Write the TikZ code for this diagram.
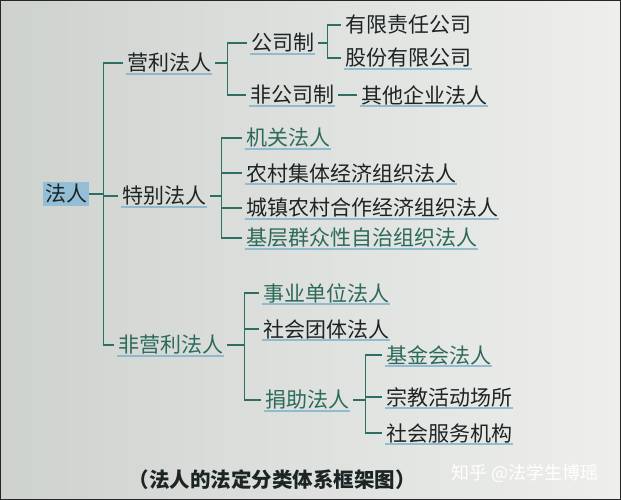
\documentclass[tikz,border=0pt]{standalone}
\usepackage{fontspec}
\newfontfamily\cjk{Noto Sans CJK SC}
\usetikzlibrary{positioning}

\definecolor{paperL}{HTML}{CED2CE}
\definecolor{paperR}{HTML}{EEEFED}
\definecolor{linecol}{HTML}{2E6F63}
\definecolor{inkcol}{HTML}{1C2424}
\definecolor{greencol}{HTML}{2C6A5C}
\definecolor{markcol}{HTML}{78AECB}

\begin{document}
\begin{tikzpicture}[x=1pt, y=-1pt]
        \tikzstyle{item} = [anchor=west, inner xsep=4pt, inner ysep=2pt, text=inkcol, font=\cjk\fontsize{21}{23}\selectfont]
        \tikzstyle{green} = [item, text=greencol]
        \tikzstyle{conn} = [draw=linecol, line width=1.3pt]
        \tikzstyle{uline} = [draw=markcol, line width=2.6pt, opacity=0.75]
        % paper
        \shade[left color=paperL, right color=paperR] (0,0) rectangle (621,500);
        \useasboundingbox (0,0) rectangle (621,500);
        % root
        \node[item, anchor=center, fill=markcol!80, inner xsep=2pt] (fr) at (66,194) {法人};
        % level 1
        \node[item] (yl) at (123,63) {营利法人};
        \node[item] (tb) at (118,196) {特别法人};
        \node[green] (fyl) at (114,345) {非营利法人};
        % 营利法人
        \node[item] (gs) at (247,43) {公司制};
        \node[item] (fgs) at (246,95) {非公司制};
        \node[item, right=6.5mm of fgs] (qt) {其他企业法人};
        \node[item] (yx) at (341,25) {有限责任公司};
        \node[item] (gf) at (341,58) {股份有限公司};
        % 特别法人
        \node[green] (jg) at (242,138) {机关法人};
        \node[item] (nc) at (242,173) {农村集体经济组织法人};
        \node[item] (cz) at (242,208) {城镇农村合作经济组织法人};
        \node[green] (jc) at (242,238) {基层群众性自治组织法人};
        % 非营利法人
        \node[green] (sy) at (259,293) {事业单位法人};
        \node[item] (st) at (259,329) {社会团体法人};
        \node[green] (jz) at (261,400) {捐助法人};
        \node[green] (jj) at (382,355) {基金会法人};
        \node[item] (zj) at (382,397) {宗教活动场所};
        \node[item] (sf) at (382,433) {社会服务机构};
        % underlines
        \foreach \n in {yl,tb,fyl,gs,fgs,gf,qt,jg,nc,cz,jc,sy,st,jz,jj,zj,sf}
          \draw[uline] ([xshift=3pt,yshift=1pt]\n.south west) -- ([xshift=-3pt,yshift=1pt]\n.south east);
        % brackets
        \foreach \c in {yl,tb,fyl} \draw[conn] (fr.east) -- ++(14,0) |- (\c.west);
        \foreach \c in {gs,fgs} \draw[conn] (yl.east) -- ++(12,0) |- (\c.west);
        \foreach \c in {yx,gf} \draw[conn] (gs.east) -- ++(9,0) |- (\c.west);
        \draw[conn] (fgs.east) -- (qt.west);
        \foreach \c in {jg,nc,cz,jc} \draw[conn] (tb.east) -- ++(11,0) |- (\c.west);
        \foreach \c in {sy,st,jz} \draw[conn] (fyl.east) -- ++(17,0) |- (\c.west);
        \foreach \c in {jj,zj,sf} \draw[conn] (jz.east) -- ++(12,0) |- (\c.west);
        % caption and mark
        \node[text=inkcol, font=\cjk\bfseries\fontsize{20.5}{22}\selectfont] (cap) at (272,480) {（法人的法定分类体系框架图）};
        \node[anchor=west, text=white, font=\cjk\fontsize{18}{20}\selectfont] (wm) at (448,473) {知乎 @法学生博瑶};
        \draw[black!85, line width=2pt] (0,0) rectangle (621,500);
\end{tikzpicture}
\end{document}
